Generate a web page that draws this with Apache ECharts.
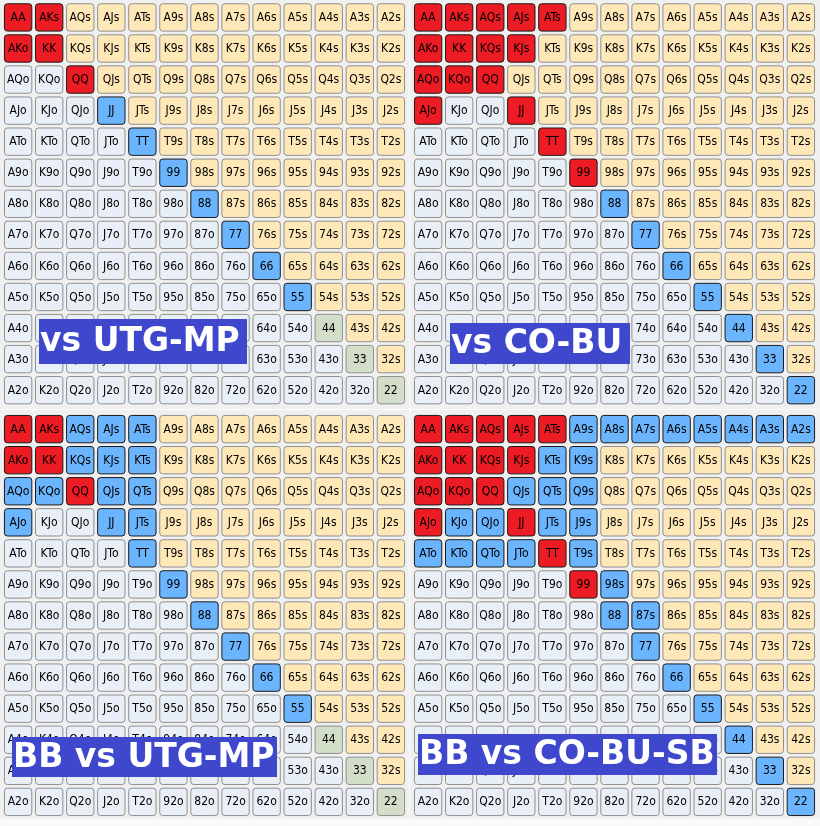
<!DOCTYPE html>
<html>
<head>
<meta charset="utf-8">
<script src="https://cdn.jsdelivr.net/npm/echarts@6/dist/echarts.min.js"></script>
<style>
html,body{margin:0;padding:0;background:#f0f0f0;}
#chart{width:820px;height:826px;}
</style>
</head>
<body>
<div id="chart"></div>
<script>
// ---- data ----
const ranks = ['A','K','Q','J','T','9','8','7','6','5','4','3','2'];

const utgmpTitle = 'vs UTG-MP';
const utgmpRed = ['AA','AKs','AKo','KK','QQ'];
const utgmpBlue = ['JJ','TT','99','88','77','66','55'];
const utgmpGreen = ['44','33','22'];

const cobuTitle = 'vs CO-BU';
const cobuRed = ['AA','AKs','AQs','AJs','ATs','AKo','KK','KQs','KJs','AQo','KQo','QQ','AJo','JJ','TT','99'];
const cobuBlue = ['88','77','66','55','44','33','22'];
const cobuGreen = [];

const bbUtgmpTitle = 'BB vs UTG-MP';
const bbUtgmpRed = ['AA','AKs','AKo','KK','QQ'];
const bbUtgmpBlue = ['AQs','AJs','ATs','KQs','KJs','KTs','AQo','KQo','QJs','QTs','AJo','JJ','JTs','TT','99','88','77','66','55'];
const bbUtgmpGreen = ['44','33','22'];

const bbCobusbTitle = 'BB vs CO-BU-SB';
const bbCobusbRed = ['AA','AKs','AQs','AJs','ATs','AKo','KK','KQs','KJs','AQo','KQo','QQ','AJo','JJ','TT','99'];
const bbCobusbBlue = ['A9s','A8s','A7s','A6s','A5s','A4s','A3s','A2s','KTs','K9s','QJs','QTs','Q9s','KJo','QJo','JTs','J9s','ATo','KTo','QTo','JTo','T9s','98s','88','87s','77','66','55','44','33','22'];
const bbCobusbGreen = [];

// ---- styles ----
// kinds: 0 offsuit idle, 1 suited idle, 2 pair idle, 3 red, 4 blue, 5 green
const fills = ['#e8eff7','#ffe8b8','#d2dec8','#ed1c24','#6bb5ff','#d2dec8'];
const strokes = ['#8f8f8f','#8f8f8f','#8f8f8f','#1a1a1a','#1a1a1a','#8f8f8f'];

function handName(i, j) {
  if (i === j) return ranks[i] + ranks[j];
  if (i < j) return ranks[i] + ranks[j] + 's';
  return ranks[j] + ranks[i] + 'o';
}

function buildCells(red, blue, green) {
  const out = [];
  for (let i = 0; i < 13; i++) {
    for (let j = 0; j < 13; j++) {
      const h = handName(i, j);
      let k = i === j ? 2 : (i < j ? 1 : 0);
      if (red.indexOf(h) >= 0) k = 3;
      else if (blue.indexOf(h) >= 0) k = 4;
      else if (green.indexOf(h) >= 0) k = 5;
      out.push({ value: [j, i, k], name: h });
    }
  }
  return out;
}

const panels = [
  { cells: buildCells(utgmpRed, utgmpBlue, utgmpGreen), title: utgmpTitle, left: 2.6, top: 1.9,
    box: [39, 319, 208, 45], font: 33 },
  { cells: buildCells(cobuRed, cobuBlue, cobuGreen), title: cobuTitle, left: 412.6, top: 1.9,
    box: [450, 323, 180, 41], font: 33 },
  { cells: buildCells(bbUtgmpRed, bbUtgmpBlue, bbUtgmpGreen), title: bbUtgmpTitle, left: 2.6, top: 413.6,
    box: [12, 737, 265, 40], font: 33 },
  { cells: buildCells(bbCobusbRed, bbCobusbBlue, bbCobusbGreen), title: bbCobusbTitle, left: 412.6, top: 413.6,
    box: [418, 734, 299, 41], font: 33 }
];

const SIZE = 403.8;

function makeRender(cells) {
  return function (params, api) {
    const c = api.coord([api.value(0), api.value(1)]);
    const s = api.size([1, 1]);
    const w = s[0] - 3.7, h = s[1] - 3.7;
    const k = api.value(2);
    return {
      type: 'group',
      children: [
        { type: 'rect',
          shape: { x: c[0] - w / 2, y: c[1] - h / 2, width: w, height: h, r: 3 },
          style: { fill: fills[k], stroke: strokes[k], lineWidth: 1 } },
        { type: 'text',
          style: { text: cells[params.dataIndex].name, x: c[0], y: c[1] + 0.5,
            align: 'center', verticalAlign: 'middle',
            font: '12px "DejaVu Sans Condensed", "DejaVu Sans"', fill: '#000' } }
      ]
    };
  };
}

const option = {
  animation: false,
  backgroundColor: '#f0f0f0',
  grid: panels.map(p => ({ left: p.left, top: p.top, width: SIZE, height: SIZE })),
  xAxis: panels.map((p, i) => ({ type: 'category', gridIndex: i, data: ranks, show: false })),
  yAxis: panels.map((p, i) => ({ type: 'category', gridIndex: i, data: ranks, inverse: true, show: false })),
  series: panels.map((p, i) => ({
    type: 'custom', xAxisIndex: i, yAxisIndex: i,
    renderItem: makeRender(p.cells), data: p.cells, silent: true
  })),
  graphic: [
    { type: 'rect', shape: { x: 409, y: 0, width: 1, height: 826 }, style: { fill: '#fafafa' }, z: 0 },
    { type: 'rect', shape: { x: 0, y: 409, width: 820, height: 1 }, style: { fill: '#fafafa' }, z: 0 },
    { type: 'rect', shape: { x: 0, y: 819, width: 820, height: 7 }, style: { fill: '#fafafa' }, z: 0 }
  ].concat(...panels.map(p => [
    { type: 'rect', z: 100, shape: { x: p.box[0], y: p.box[1], width: p.box[2], height: p.box[3] },
      style: { fill: '#3f48cc' } },
    { type: 'text', z: 101, style: { text: p.title, x: p.box[0] + 1, y: p.box[1] + p.box[3] / 2 + 1,
      align: 'left', verticalAlign: 'middle',
      font: 'bold ' + p.font + 'px "DejaVu Sans"', fill: '#ffffff' } }
  ]))
};

const chart = echarts.init(document.getElementById('chart'), null, { renderer: 'canvas' });
chart.setOption(option);
</script>
</body>
</html>
